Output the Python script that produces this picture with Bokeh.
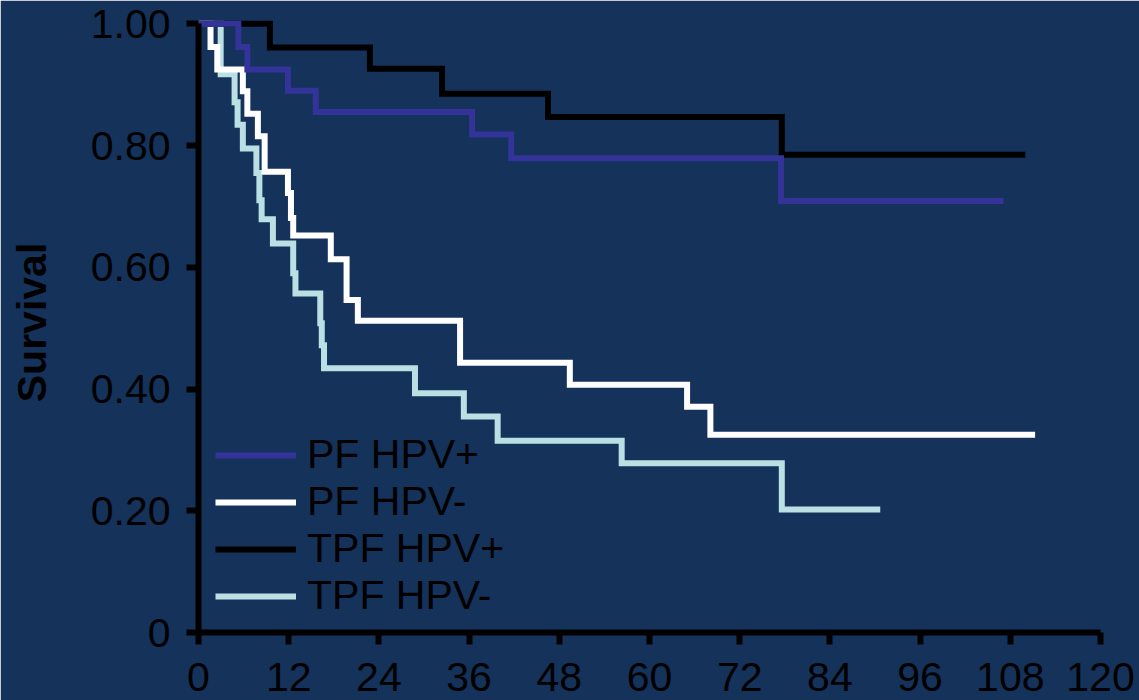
from bokeh.plotting import figure
from bokeh.models import Range1d, FixedTicker, Legend, LegendItem
from bokeh.embed import file_html
from bokeh.resources import INLINE

# ---- data (months, survival) ----
month_ticks = [0, 12, 24, 36, 48, 60, 72, 84, 96, 108, 120]
surv_ticks = [0, 0.2, 0.4, 0.6, 0.8, 1.0]
surv_tick_labels = ["0", "0.20", "0.40", "0.60", "0.80", "1.00"]

pf_pos_t = [5.3, 6.5, 11.9, 15.6, 36.4, 41.6, 77.5]
pf_pos_s = [0.962, 0.925, 0.890, 0.855, 0.818, 0.779, 0.709]
pf_pos_end = 107.1

pf_neg_t = [1.6, 2.5, 5.9, 6.5, 7.9, 8.8, 11.9, 12.3, 12.6, 17.6, 19.7, 21.2,
            34.8, 49.4, 65.0, 68.1]
pf_neg_s = [0.962, 0.925, 0.889, 0.852, 0.815, 0.757, 0.722, 0.681, 0.652,
            0.613, 0.546, 0.512, 0.443, 0.407, 0.371, 0.325]
pf_neg_end = 111.3

tpf_pos_t = [9.5, 22.8, 32.4, 46.5, 77.6]
tpf_pos_s = [0.961, 0.926, 0.885, 0.847, 0.785]
tpf_pos_end = 110.0

tpf_neg_t = [2.95, 4.8, 5.2, 5.9, 7.7, 8.1, 8.4, 9.9, 12.6, 12.9, 16.2, 16.4,
             16.7, 28.8, 35.3, 39.8, 56.3, 77.6]
tpf_neg_s = [0.917, 0.871, 0.834, 0.795, 0.755, 0.710, 0.679, 0.639, 0.590,
             0.557, 0.508, 0.472, 0.434, 0.393, 0.355, 0.315, 0.278, 0.202]
tpf_neg_end = 90.7

labels = ["PF HPV+", "PF HPV-", "TPF HPV+", "TPF HPV-"]
colors = ["#333399", "#FFFFFF", "#000000", "#BBE0E3"]

BG = "#14325A"
FONT = "Liberation Sans"
FS = "41px"


def km(times, surv, end):
    xs = [0.0] + list(times) + [end]
    ys = [1.0] + list(surv) + [surv[-1]]
    return xs, ys


p = figure(frame_width=902, frame_height=620, output_backend="svg", toolbar_location=None,
           x_range=Range1d(0, 120), y_range=Range1d(0, 620 / 608.75),
           min_border_left=198, min_border_right=39, min_border_top=12,
           min_border_bottom=68)
p.background_fill_color = BG
p.border_fill_color = BG
p.outline_line_color = BG
p.outline_line_width = 3
p.grid.visible = False

series = [
    (tpf_neg_t, tpf_neg_s, tpf_neg_end, 3),
    (pf_neg_t, pf_neg_s, pf_neg_end, 1),
    (tpf_pos_t, tpf_pos_s, tpf_pos_end, 2),
    (pf_pos_t, pf_pos_s, pf_pos_end, 0),
]
rends = {}
for t, s, e, idx in series:
    xs, ys = km(t, s, e)
    r = p.step(xs, ys, mode="after", line_color=colors[idx], line_width=6,
               line_join="miter", line_cap="butt")
    rends[idx] = r

legend = Legend(items=[LegendItem(label=labels[i], renderers=[rends[i]]) for i in range(4)],
                location=(17, 13), padding=0, margin=0, spacing=-2,
                label_standoff=11, glyph_width=81, glyph_height=40,
                label_height=40,
                label_text_font=FONT, label_text_font_size=FS,
                label_text_color="#000000",
                background_fill_alpha=0, border_line_alpha=0)
p.add_layout(legend)

for ax in (p.xaxis[0], p.yaxis[0]):
    ax.axis_line_color = "#000000"
    ax.axis_line_width = 6
    ax.major_tick_line_color = "#000000"
    ax.major_tick_line_width = 6
    ax.major_tick_out = 12
    ax.major_tick_in = 0
    ax.minor_tick_line_color = None
    ax.major_label_text_font = FONT
    ax.major_label_text_font_size = FS
    ax.major_label_text_color = "#000000"

p.xaxis.ticker = FixedTicker(ticks=month_ticks)
p.xaxis.bounds = (0, 120)
p.xaxis.major_label_standoff = 18

p.yaxis.ticker = FixedTicker(ticks=surv_ticks)
p.yaxis.major_label_overrides = {t: l for t, l in zip(surv_ticks, surv_tick_labels)}
p.yaxis.bounds = (0, 1)
p.yaxis.major_label_standoff = 16
p.yaxis.axis_label = "Survival"
p.yaxis.axis_label_text_font = FONT
p.yaxis.axis_label_text_font_size = FS
p.yaxis.axis_label_text_font_style = "bold"
p.yaxis.axis_label_text_color = "#000000"
p.yaxis.axis_label_standoff = 33

html = file_html(p, INLINE)
html = html.replace("<body>",
                    '<body style="background-color:%s;overflow:hidden;">' % BG, 1)
open("out.html", "w").write(html)
